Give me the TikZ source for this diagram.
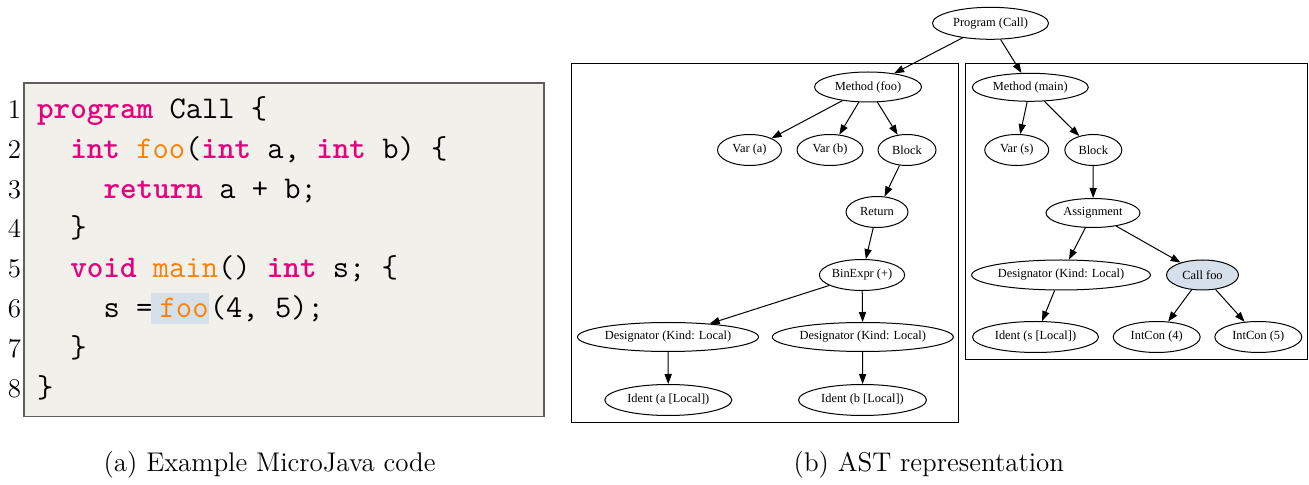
\documentclass[tikz,border=0pt]{standalone}
\usepackage{fontspec}
\usetikzlibrary{shapes.geometric,arrows.meta}
\newfontfamily\astfont{Liberation Serif}

\definecolor{kwpink}{RGB}{230,0,126}
\definecolor{fnorange}{RGB}{255,128,0}
\definecolor{codebg}{RGB}{242,240,234}
\definecolor{hlblue}{RGB}{214,224,235}
\definecolor{codeframe}{RGB}{95,95,95}

% keyword and function-name highlighting for the listing
\newcommand{\kw}[1]{\textcolor{kwpink}{\bfseries #1}}
\newcommand{\fn}[1]{\textcolor{fnorange}{#1}}

\begin{document}
\begin{tikzpicture}[x=0.5pt,y=-0.5pt,
  codeline/.style={anchor=base west,inner sep=0pt,font=\fontsize{15.8}{19}\selectfont\ttfamily},
  lineno/.style={anchor=base west,inner sep=0pt,font=\fontsize{13.5}{16}\selectfont},
  captext/.style={anchor=base west,inner sep=0pt,font=\fontsize{13.5}{16}\selectfont},
  astnode/.style={ellipse,draw=black,line width=0.5pt,inner sep=0pt,
    minimum height=15.5pt,font=\fontsize{6.2}{7.5}\selectfont\astfont},
  ew/.style={minimum width=#1*0.5pt},
  eh/.style={minimum height=#1*0.5pt},
  callnode/.style={fill=hlblue},
  edge/.style={line width=0.5pt,-{Triangle[length=5pt,width=3.6pt]}},
  cluster/.style={draw=black,line width=0.5pt}]
\useasboundingbox (0,0) rectangle (1309,485);

% ---------------- listing ----------------
\draw[fill=codebg,draw=codeframe,line width=0.7pt] (24,83) rectangle (544,416.5);
\fill[hlblue] (151,293.3) rectangle (209,324.3);

\foreach \n in {1,...,8}{
  \node[lineno] (ln\n) at (7.5,{118.5+39.8*(\n-1)}) {\n};
}

\node[codeline] (c1) at (36.7,118.5) {\kw{program} Call \{};
\node[codeline] (c2) at (69.9,158.3) {\kw{int} \fn{foo}(\kw{int} a, \kw{int} b) \{};
\node[codeline] (c3) at (103.1,198.1) {\kw{return} a + b;};
\node[codeline] (c4) at (69.9,237.9) {\}};
\node[codeline] (c5) at (69.9,277.7) {\kw{void} \fn{main}() \kw{int} s; \{};
\node[codeline] (c6a) at (103.1,317.5) {s =};
\node[codeline] (c6b) at (159.3,317.5) {\fn{foo}};
\node[codeline] (c6c) at (209.5,317.5) {(4, 5);};
\node[codeline] (c7) at (69.9,357.3) {\}};
\node[codeline] (c8) at (36.7,397.1) {\}};

\node[captext] (capa) at (103.3,471.7) {(a) Example MicroJava code};

% ---------------- AST ----------------
\draw[cluster] (571.5,63.5) rectangle (958,422);
\draw[cluster] (965,63.5) rectangle (1307,360);

\node[astnode,ew=116,eh=32] (prog) at (990.5,23.3) {Program (Call)};

\node[astnode,ew=107,eh=30] (mfoo) at (868,87) {Method (foo)};
\node[astnode,ew=64] (vara) at (749.5,150) {Var (a)};
\node[astnode,ew=66] (varb) at (830,150) {Var (b)};
\node[astnode,ew=58] (blka) at (907,150) {Block};
\node[astnode,ew=62] (ret) at (877,212) {Return};
\node[astnode,ew=78] (bin) at (862,275) {BinExpr (+)};
\node[astnode,ew=181,eh=29] (desa) at (668,337) {Designator (Kind: Local)};
\node[astnode,ew=181,eh=29] (desb) at (862.8,337) {Designator (Kind: Local)};
\node[astnode,ew=127] (ida) at (668.3,400) {Ident (a [Local])};
\node[astnode,ew=128] (idb) at (862.5,400) {Ident (b [Local])};

\node[astnode,ew=116,eh=28] (mmain) at (1030.3,87.3) {Method (main)};
\node[astnode,ew=64] (vars) at (1016.7,150) {Var (s)};
\node[astnode,ew=57] (blkb) at (1093.3,150) {Block};
\node[astnode,ew=94,eh=29] (asg) at (1093,213) {Assignment};
\node[astnode,ew=178,eh=30] (dess) at (1061,275) {Designator (Kind: Local)};
\node[astnode,callnode,ew=72,eh=30] (call) at (1202.5,275) {Call foo};
\node[astnode,ew=126] (ids) at (1035.5,337) {Ident (s [Local])};
\node[astnode,ew=87] (ic4) at (1156.7,337) {IntCon (4)};
\node[astnode,ew=87] (ic5) at (1258.3,337) {IntCon (5)};

\draw[edge] (prog) -- (mfoo);
\draw[edge] (prog) -- (mmain);
\draw[edge] (mfoo) -- (vara);
\draw[edge] (mfoo) -- (varb);
\draw[edge] (mfoo) -- (blka);
\draw[edge] (blka) -- (ret);
\draw[edge] (ret) -- (bin);
\draw[edge] (bin) -- (desa);
\draw[edge] (bin) -- (desb);
\draw[edge] (desa) -- (ida);
\draw[edge] (desb) -- (idb);
\draw[edge] (mmain) -- (vars);
\draw[edge] (mmain) -- (blkb);
\draw[edge] (blkb) -- (asg);
\draw[edge] (asg) -- (dess);
\draw[edge] (asg) -- (call);
\draw[edge] (dess) -- (ids);
\draw[edge] (call) -- (ic4);
\draw[edge] (call) -- (ic5);

\node[captext] (capb) at (793.3,471.7) {(b) AST representation};
\end{tikzpicture}
\end{document}
